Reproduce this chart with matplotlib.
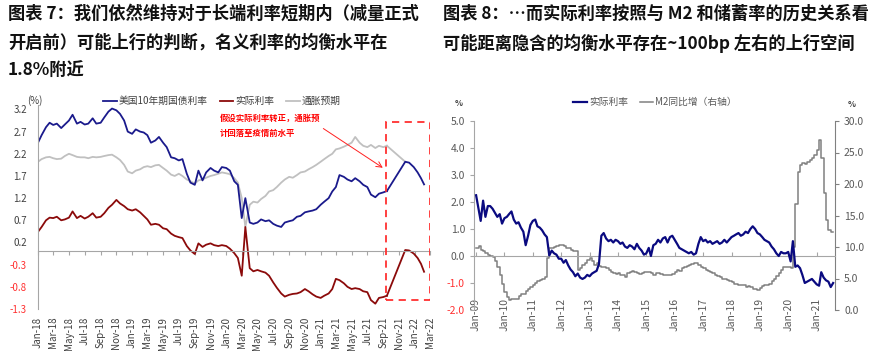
import matplotlib
matplotlib.use("Agg")
import matplotlib.pyplot as plt
import matplotlib.dates as mdates
import numpy as np
import pandas as pd

plt.rcParams['font.family'] = ['Noto Sans CJK SC', 'DejaVu Sans']

# ── 图表 7 数据（半月频，2018-01 ~ 2021-09）────────────────────────────
us10y = [
    2.45, 2.62, 2.80, 2.90, 2.85, 2.88, 2.78, 2.86, 2.95, 3.08, 2.88, 2.92,
    2.86, 2.88, 3.00, 2.88, 2.90, 3.02, 3.15, 3.22, 3.18, 3.10, 2.95, 2.70,
    2.65, 2.75, 2.70, 2.68, 2.62, 2.45, 2.50, 2.58, 2.45, 2.35, 2.12, 2.10,
    2.05, 2.08, 1.75, 1.55, 1.50, 1.82, 1.60, 1.78, 1.88, 1.82, 1.78, 1.90,
    1.88, 1.82, 1.58, 1.50, 0.75, 1.20, 0.65, 0.62, 0.65, 0.72, 0.68, 0.70,
    0.62, 0.58, 0.55, 0.65, 0.68, 0.70, 0.78, 0.80, 0.88, 0.90, 0.92, 0.95,
    1.05, 1.12, 1.20, 1.35, 1.45, 1.72, 1.68, 1.62, 1.58, 1.65, 1.58, 1.50,
    1.45, 1.28, 1.22, 1.30, 1.33, 1.36,
]
infl = [
    2.02, 2.08, 2.12, 2.13, 2.10, 2.08, 2.09, 2.15, 2.20, 2.17, 2.13, 2.12,
    2.12, 2.10, 2.13, 2.12, 2.13, 2.15, 2.17, 2.18, 2.12, 2.06, 1.95, 1.80,
    1.76, 1.82, 1.85, 1.90, 1.92, 1.90, 1.94, 1.95, 1.88, 1.82, 1.73, 1.70,
    1.75, 1.70, 1.62, 1.58, 1.53, 1.60, 1.62, 1.66, 1.70, 1.72, 1.75, 1.78,
    1.76, 1.74, 1.65, 1.55, 1.20, 0.55, 1.05, 1.12, 1.10, 1.18, 1.25, 1.35,
    1.38, 1.45, 1.55, 1.62, 1.68, 1.66, 1.72, 1.78, 1.80, 1.85, 1.90, 1.95,
    2.02, 2.08, 2.15, 2.20, 2.30, 2.32, 2.36, 2.40, 2.45, 2.58, 2.45, 2.38,
    2.35, 2.40, 2.33, 2.38, 2.35, 2.38,
]
real = [
    0.44, 0.55, 0.70, 0.76, 0.75, 0.78, 0.70, 0.72, 0.76, 0.90, 0.75, 0.80,
    0.74, 0.78, 0.86, 0.76, 0.78, 0.86, 0.98, 1.05, 1.16, 1.08, 1.02, 0.95,
    0.92, 0.95, 0.88, 0.80, 0.72, 0.60, 0.62, 0.60, 0.52, 0.50, 0.40, 0.35,
    0.32, 0.30, 0.12, 0.02, -0.06, 0.18, 0.10, 0.15, 0.18, 0.14, 0.12, 0.14,
    0.12, 0.06, -0.04, -0.15, -0.55, 0.55, -0.38, -0.45, -0.42, -0.45, -0.48, -0.55,
    -0.70, -0.82, -0.95, -1.02, -0.98, -0.96, -0.95, -0.92, -0.85, -0.90, -0.97, -1.02,
    -1.05, -1.00, -0.95, -0.85, -0.62, -0.65, -0.72, -0.80, -0.85, -0.83, -0.85, -0.90,
    -0.92, -1.10, -1.18, -1.05, -1.03, -1.00,
]
dates7 = pd.date_range('2018-01-01', periods=len(us10y), freq='SMS')

# 情景假设（虚框内）
proj_dates = pd.to_datetime(['2021-09-15', '2021-11-25', '2021-12-10', '2021-12-28',
                             '2022-01-12', '2022-01-25', '2022-02-06'])
proj_us10y = [1.36, 2.02, 2.00, 1.90, 1.78, 1.65, 1.51]
proj_real = [-1.00, 0.03, 0.02, -0.05, -0.15, -0.28, -0.46]
proj_infl = [2.38, 2.02]

# ── 图表 8 数据（月频，2009-01 ~ 2021-08）────────────────────────────
real_m = [
    2.25, 1.75, 1.30, 2.05, 1.45, 1.85, 1.85, 1.75, 1.60, 1.45, 1.55, 1.20,
    1.40, 1.45, 1.55, 1.65, 1.35, 1.20, 1.25, 1.05, 0.90, 0.40, 0.75, 1.15,
    1.30, 1.35, 1.10, 1.05, 0.95, 0.80, 0.70, 0.02, 0.20, 0.10, 0.05, -0.10,
    -0.10, -0.25, -0.15, -0.35, -0.50, -0.60, -0.75, -0.65, -0.80, -0.85, -0.80, -0.70,
    -0.75, -0.65, -0.60, -0.55, -0.30, 0.75, 0.85, 0.65, 0.55, 0.60, 0.50, 0.60,
    0.55, 0.45, 0.50, 0.35, 0.30, 0.40, 0.35, 0.25, 0.45, 0.30, 0.20, 0.05,
    0.10, 0.30, 0.00, 0.40, 0.45, 0.60, 0.50, 0.65, 0.70, 0.50, 0.70, 0.75,
    0.60, 0.45, 0.30, 0.25, 0.20, 0.15, 0.10, 0.15, 0.05, 0.10, 0.45, 0.70,
    0.55, 0.60, 0.50, 0.55, 0.45, 0.50, 0.55, 0.45, 0.50, 0.60, 0.50, 0.60,
    0.70, 0.75, 0.80, 0.85, 0.75, 0.80, 0.90, 0.85, 1.00, 1.10, 1.00, 0.85,
    0.80, 0.70, 0.60, 0.55, 0.50, 0.35, 0.25, 0.10, 0.00, 0.15, 0.10, 0.10,
    0.15, -0.20, 0.55, -0.40, -0.35, -0.45, -0.70, -1.00, -0.95, -0.90, -0.85, -0.95,
    -1.05, -1.10, -0.60, -0.80, -0.90, -0.95, -1.15, -1.00,
]
m2_yoy = [
    9.8, 10.2, 9.6, 9.3, 9.0, 8.8, 8.5, 8.4, 7.8, 6.8, 5.5, 4.2,
    2.9, 2.0, 1.6, 1.7, 1.7, 1.8, 2.2, 2.5, 2.6, 3.0, 3.3, 3.6,
    4.0, 4.3, 4.6, 4.8, 5.0, 5.3, 8.2, 9.8, 9.9, 10.0, 10.2, 10.3,
    10.3, 10.1, 9.9, 9.8, 9.6, 9.4, 9.3, 6.3, 6.6, 7.1, 7.4, 8.0,
    8.2, 7.8, 7.2, 7.4, 7.0, 6.9, 6.8, 6.6, 6.4, 6.1, 5.9, 5.7,
    5.8, 5.6, 5.5, 5.3, 5.8, 6.0, 6.2, 6.1, 5.8, 5.7, 5.8, 6.0,
    6.0, 6.1, 5.8, 5.6, 5.9, 5.8, 5.7, 5.5, 5.6, 5.6, 5.6, 5.7,
    6.0, 6.3, 6.2, 6.6, 6.8, 7.0, 7.1, 7.3, 7.4, 7.4, 7.2, 6.9,
    6.6, 6.3, 6.2, 6.0, 5.8, 5.6, 5.4, 5.2, 5.0, 5.0, 4.8, 4.6,
    4.4, 4.2, 4.1, 4.0, 3.9, 3.9, 3.7, 3.8, 3.6, 3.4, 3.3, 3.2,
    3.5, 3.8, 4.0, 4.0, 4.2, 4.6, 5.0, 5.4, 5.8, 6.4, 6.9, 6.8,
    6.8, 6.6, 10.0, 16.9, 21.9, 23.0, 23.3, 23.2, 23.5, 23.8, 24.2, 24.6,
    25.4, 27.0, 24.2, 18.5, 14.3, 12.7, 12.4, 12.4,
]
dates8 = pd.date_range('2009-01-01', periods=len(real_m), freq='MS')

title7 = "图表 7：我们依然维持对于长端利率短期内（减量正式\n开启前）可能上行的判断，名义利率的均衡水平在\n1.8%附近"
title8 = "图表 8：…而实际利率按照与 M2 和储蓄率的历史关系看\n可能距离隐含的均衡水平存在~100bp 左右的上行空间"

NAVY = '#1a1a8c'
DRED = '#8b0a0a'
LGRAY = '#c0c0c0'
AXC = '#a6a6a6'
TXT = '#404040'
RED = '#ff3030'

W, H = 873, 358
fig = plt.figure(figsize=(W / 100, H / 100), dpi=100)

fig.text(8 / W, 1 - 5 / H, title7, ha='left', va='top', fontsize=12.4,
         fontweight='bold', color='#111111', linespacing=1.72)
fig.text(443 / W, 1 - 5 / H, title8, ha='left', va='top', fontsize=12.4,
         fontweight='bold', color='#111111', linespacing=1.72)

# ── 左图 ──────────────────────────────────────────────────────────────
ax = fig.add_axes([38 / W, (H - 309) / H, 392 / W, 204 / H])
l1, = ax.plot(dates7, us10y, color=NAVY, lw=1.3)
l2, = ax.plot(dates7, real, color=DRED, lw=1.3)
l3, = ax.plot(dates7, infl, color=LGRAY, lw=1.3, zorder=1)
ax.plot(proj_dates, proj_us10y, color=NAVY, lw=1.3)
ax.plot(proj_dates, proj_real, color=DRED, lw=1.3)
ax.plot(proj_dates[:2], proj_infl, color=LGRAY, lw=1.3, zorder=1)

box_x0, box_x1 = mdates.date2num(pd.Timestamp('2021-09-10')), mdates.date2num(pd.Timestamp('2022-03-01'))
ax.add_patch(plt.Rectangle((box_x0, -1.10), box_x1 - box_x0, 2.91 + 1.10, fill=False,
                           ec=RED, ls=(0, (4, 3)), lw=1.3, zorder=5))

ax.set_xlim(pd.Timestamp('2018-01-01'), pd.Timestamp('2022-03-01'))
ax.set_ylim(-1.3, 3.3)
ax.set_yticks(np.round(np.arange(-1.3, 3.25, 0.5), 1))
ax.yaxis.set_major_formatter(matplotlib.ticker.FormatStrFormatter('%.1f'))
ax.xaxis.set_major_locator(mdates.MonthLocator(bymonth=[1, 3, 5, 7, 9, 11]))
ax.xaxis.set_major_formatter(mdates.DateFormatter('%b-%y'))
for s in ['top', 'right']:
    ax.spines[s].set_visible(False)
ax.spines['left'].set_color(AXC)
ax.spines['bottom'].set_position(('data', 0))
ax.spines['bottom'].set_color(AXC)
ax.tick_params(axis='x', direction='out', length=3, color=AXC, pad=44,
               labelsize=7, labelcolor=TXT, labelrotation=90)
ax.tick_params(axis='y', length=0, labelsize=7, labelcolor=TXT, pad=8)
for lab, v in zip(ax.get_yticklabels(), ax.get_yticks()):
    if v < 0:
        lab.set_color(RED)
fig.text(27 / W, 1 - 101 / H, '(%)', fontsize=7, color=TXT, va='center')

fig.legend([l1, l2, l3], ['美国10年期国债利率', '实际利率', '通胀预期'],
           loc='center', bbox_to_anchor=(222 / W, 1 - 101 / H), ncol=3,
           frameon=False, fontsize=7, handlelength=1.4, handletextpad=0.2,
           columnspacing=1.2, labelcolor=TXT)

fig.text(220 / W, 1 - 118 / H, '假设实际利率转正，通胀预', color='#ff0000',
         fontsize=6, fontweight='bold', va='center')
fig.text(220 / W, 1 - 133 / H, '计回落至疫情前水平', color='#ff0000',
         fontsize=6, fontweight='bold', va='center')
ax.annotate('', xy=(pd.Timestamp('2021-09-08'), 1.85), xycoords='data',
            xytext=(321 / W, 1 - 127 / H), textcoords='figure fraction',
            arrowprops=dict(arrowstyle='->', color='#ff2020', lw=0.7))

# ── 右图 ──────────────────────────────────────────────────────────────
bx = fig.add_axes([474 / W, (H - 310) / H, 361 / W, 189 / H])
r1, = bx.plot(dates8, real_m, color='#0a0a80', lw=1.6, zorder=3)
bx2 = bx.twinx()
r2, = bx2.plot(dates8, m2_yoy, color='#808080', lw=1.1, drawstyle='steps-post')
bx.set_zorder(bx2.get_zorder() + 1)
bx.patch.set_visible(False)

bx.set_xlim(pd.Timestamp('2008-12-05'), pd.Timestamp('2021-08-25'))
bx.set_ylim(-2, 5)
bx.set_yticks(np.arange(-2, 5.1, 1))
bx.yaxis.set_major_formatter(matplotlib.ticker.FormatStrFormatter('%.1f'))
bx2.set_ylim(0, 30)
bx2.set_yticks(np.arange(0, 31, 5))
bx2.yaxis.set_major_formatter(matplotlib.ticker.FormatStrFormatter('%.1f'))
bx.xaxis.set_major_locator(mdates.YearLocator())
bx.xaxis.set_major_formatter(mdates.DateFormatter('%b-%y'))
for a in (bx, bx2):
    a.spines['top'].set_visible(False)
bx.spines['right'].set_visible(False)
bx2.spines['left'].set_visible(False)
bx2.spines['bottom'].set_visible(False)
bx.spines['left'].set_color(AXC)
bx2.spines['right'].set_color('#808080')
bx.spines['bottom'].set_position(('data', 0))
bx.spines['bottom'].set_color(AXC)
bx.tick_params(axis='x', direction='in', length=3, color=AXC, pad=30,
               labelsize=7.5, labelcolor='#595959', labelrotation=90)
bx.tick_params(axis='y', length=3, color=AXC, labelsize=7.5, labelcolor='#595959')
bx2.tick_params(axis='y', length=3, color='#808080', labelsize=7.5, labelcolor='#595959')
for lab, v in zip(bx.get_yticklabels(), bx.get_yticks()):
    if v < 0:
        lab.set_color(RED)
fig.text(455 / W, 1 - 103 / H, '%', fontsize=6, color=TXT, va='center', fontweight='bold')
fig.text(848 / W, 1 - 105 / H, '%', fontsize=6, color=TXT, va='center', fontweight='bold')

fig.legend([r1, r2], ['实际利率', 'M2同比增（右轴）'],
           loc='center', bbox_to_anchor=(655 / W, 1 - 102 / H), ncol=2,
           frameon=False, fontsize=7, handlelength=1.4, handletextpad=0.2,
           columnspacing=1.2, labelcolor='#595959')

fig.savefig('out.png', dpi=100)
